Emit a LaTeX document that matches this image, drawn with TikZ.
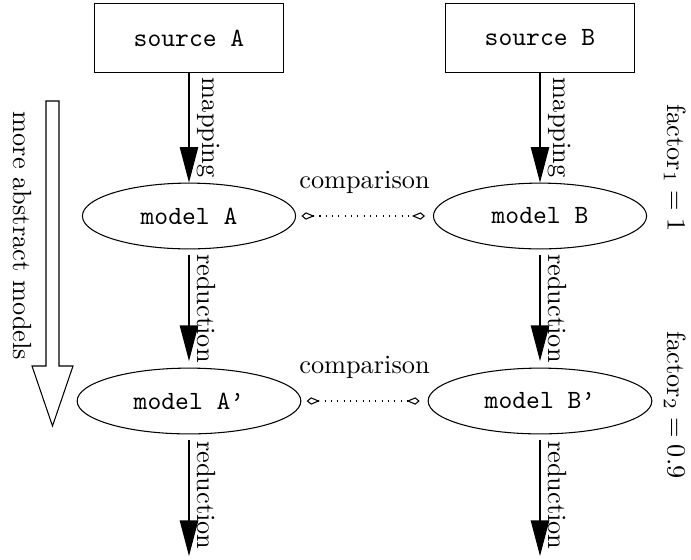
\documentclass[tikz,border=0pt]{standalone}
\usetikzlibrary{arrows.meta,shapes.geometric}
\begin{document}
\begin{tikzpicture}[x=0.38pt,y=-0.38pt,
  srcbox/.style={draw, rectangle, font=\ttfamily, minimum width=71.5pt, minimum height=26pt, inner sep=0pt},
  model/.style={draw, ellipse, font=\ttfamily, minimum width=81pt, minimum height=25pt, inner sep=0pt},
  modelwide/.style={model, minimum width=85pt},
  flow/.style={-{Triangle[length=13.5pt,width=7pt]}},
  cmptip/.style={Kite[open,length=5pt,width=2.8pt,inset=3.3pt]},
  cmp/.style={dotted, {Kite[open,length=5pt,width=2.8pt,inset=3.3pt]}-{Kite[open,length=5pt,width=2.8pt,inset=3.3pt]}, shorten <=2pt, shorten >=3pt},
  edgelabel/.style={midway, anchor=south, rotate=-90, inner sep=3pt},
  cmplabel/.style={midway, anchor=base, yshift=10.5pt}
]
\useasboundingbox (0,0) rectangle (691,559);

% sources, models and the open ends below the last models
\node[srcbox] (srcA) at (189,38) {source A};
\node[srcbox] (srcB) at (540,38) {source B};
\node[model] (modA) at (189,216) {model A};
\node[model] (modB) at (540,216) {model B};
\node[modelwide] (modA2) at (189,401) {model A’};
\node[modelwide] (modB2) at (540,401) {model B’};
\coordinate (endA) at (189,556);
\coordinate (endB) at (540,556);

% vertical flow
\draw[flow] (srcA) -- node[edgelabel] {mapping} (modA);
\draw[flow] (srcB) -- node[edgelabel] {mapping} (modB);
\draw[flow, shorten <=2pt, shorten >=2.5pt] (modA) -- node[edgelabel] {reduction} (modA2);
\draw[flow, shorten <=2pt, shorten >=2.5pt] (modB) -- node[edgelabel] {reduction} (modB2);
\draw[flow, shorten <=2pt] (modA2) -- node[edgelabel] {reduction} (endA);
\draw[flow, shorten <=2pt] (modB2) -- node[edgelabel] {reduction} (endB);

% comparisons between the two columns
\draw[cmp] (modA) -- node[cmplabel] {comparison} (modB);
\draw[cmp] (modA2) -- node[cmplabel] {comparison} (modB2);

% hollow arrow on the left
\draw (46,101) -- (59,101) -- (59,366) -- (73,366) -- (52.5,426) -- (32,366) -- (46,366) -- cycle;
\node[rotate=-90] (abstract) at (22,236) {more abstract models};

% factors on the right
\node[rotate=-90] (fac1) at (675,168) {factor$_1 = 1$};
\node[rotate=-90] (fac2) at (675,405) {factor$_2 = 0.9$};
\end{tikzpicture}
\end{document}
